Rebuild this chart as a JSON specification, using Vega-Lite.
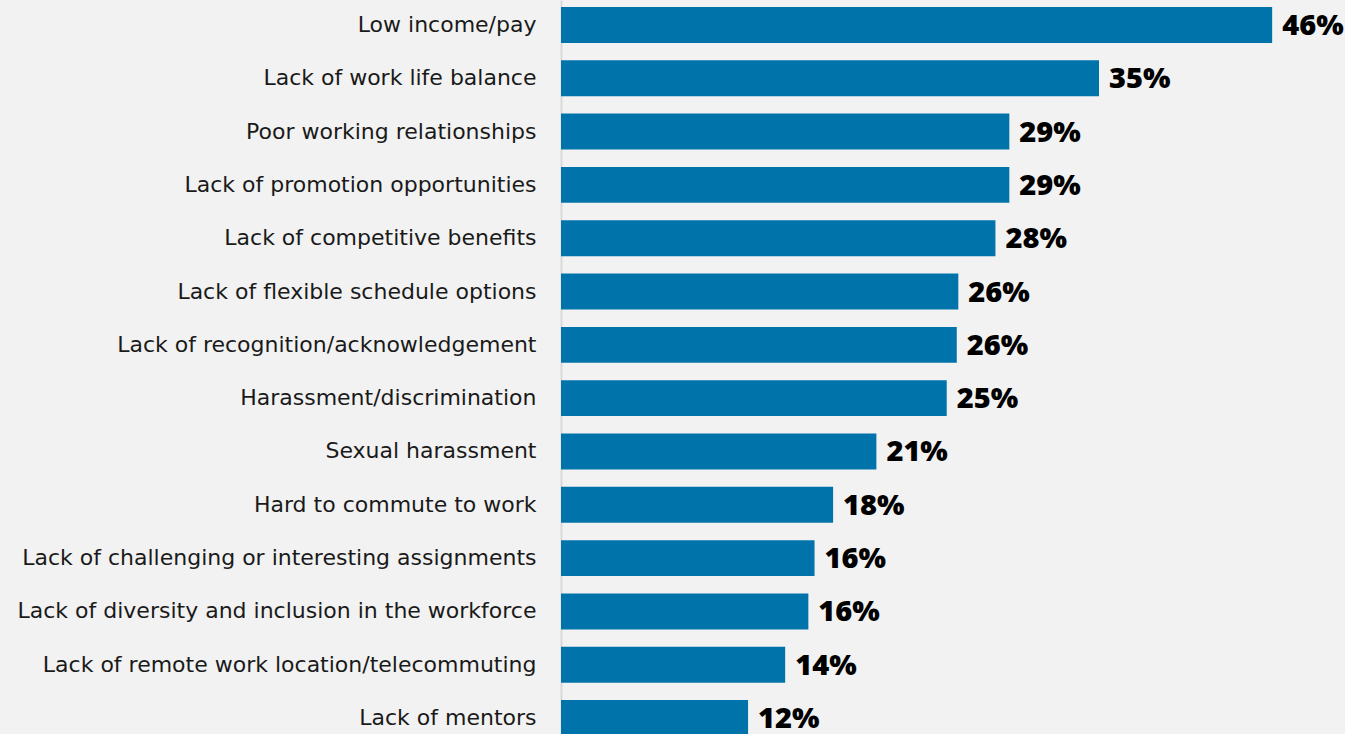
{
  "$schema": "https://vega.github.io/schema/vega-lite/v6.json",
  "autosize": "none",
  "width": 773,
  "height": 734,
  "padding": {"left": 561, "top": 0, "right": 11, "bottom": 0},
  "background": "#f2f2f2",
  "config": {"view": {"stroke": null}},
  "data": {"values": [
    {"reason": "Low income/pay", "value": 46.0, "label": "46%"},
    {"reason": "Lack of work life balance", "value": 34.8, "label": "35%"},
    {"reason": "Poor working relationships", "value": 29.0, "label": "29%"},
    {"reason": "Lack of promotion opportunities", "value": 29.0, "label": "29%"},
    {"reason": "Lack of competitive benefits", "value": 28.1, "label": "28%"},
    {"reason": "Lack of flexible schedule options", "value": 25.7, "label": "26%"},
    {"reason": "Lack of recognition/acknowledgement", "value": 25.6, "label": "26%"},
    {"reason": "Harassment/discrimination", "value": 24.95, "label": "25%"},
    {"reason": "Sexual harassment", "value": 20.4, "label": "21%"},
    {"reason": "Hard to commute to work", "value": 17.6, "label": "18%"},
    {"reason": "Lack of challenging or interesting assignments", "value": 16.4, "label": "16%"},
    {"reason": "Lack of diversity and inclusion in the workforce", "value": 16.0, "label": "16%"},
    {"reason": "Lack of remote work location/telecommuting", "value": 14.5, "label": "14%"},
    {"reason": "Lack of mentors", "value": 12.1, "label": "12%"}
  ]},
  "encoding": {
    "y": {
      "field": "reason", "type": "nominal", "sort": null,
      "scale": {"range": [0, 743], "paddingInner": 0.326, "paddingOuter": 0.131},
      "axis": {
        "title": null, "ticks": false, "labelPadding": 25,
        "labelFont": "DejaVu Sans", "labelFontSize": 22, "labelColor": "#1a1a1a",
        "labelLimit": 600, "domainColor": "#d9d9d9", "domainWidth": 2
      }
    },
    "x": {
      "field": "value", "type": "quantitative",
      "scale": {"domain": [0, 50]},
      "axis": null
    }
  },
  "layer": [
    {"mark": {"type": "bar", "color": "#0074aa"}},
    {
      "mark": {"type": "text", "align": "left", "baseline": "middle", "dx": 10, "dy": 1,
               "font": "Open Sans", "fontSize": 29, "fontWeight": 800, "color": "#000000"},
      "encoding": {"text": {"field": "label"}}
    }
  ]
}
